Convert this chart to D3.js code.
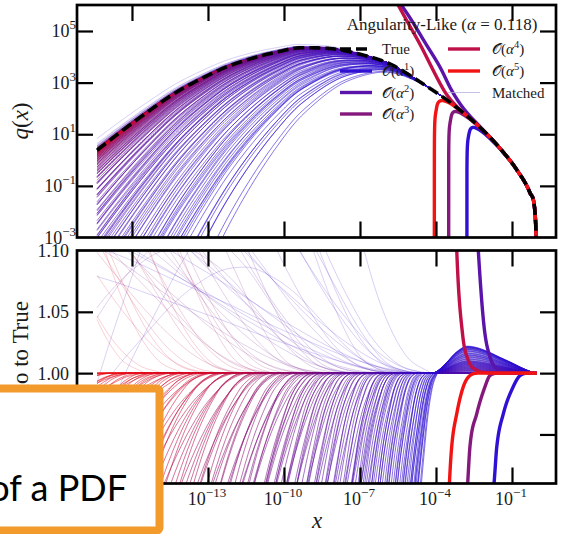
<!DOCTYPE html>
<html><head><meta charset="utf-8">
<script src="https://cdn.jsdelivr.net/npm/d3@7"></script>
<style>html,body{margin:0;padding:0;background:#fff}svg{display:block}</style>
</head><body>
<svg id="c" width="564" height="534"></svg>
<script>
// ---------------- DATA (log10 units) ----------------
// True curve: log10 x  -> log10 q(x)
const trueLogX = [-17.38,-16.5,-15.5,-14.26,-13.0,-12.29,-11.3,-10.3,-9.3,-8.3,-7.0,-5.81,-4.51,-3.45,-2.14,-1.47,-0.81,-0.29,-0.09,-0.02];
const trueLogQ = [0.38,1.05,1.78,2.62,3.28,3.6,3.93,4.18,4.35,4.33,4.1,3.72,2.95,2.24,1.15,0.45,-0.38,-1.27,-2.04,-3.6];

// Fixed-order curves that vanish (ratio to True, linear)
const alpha1L = [-2.78,-2.76,-2.71,-2.64,-2.53,-2.36,-2.15,-1.9,-1.71,-1.6,-1.34,-0.95,-0.68,-0.3,0];
const alpha3L = [-3.50,-3.48,-3.43,-3.37,-3.28,-3.15,-3.0,-2.85,-2.75,-2.66,-2.39,-2.065,-1.87,-1.5,0];
const alpha5L = [-4.065,-4.045,-3.995,-3.935,-3.845,-3.735,-3.615,-3.525,-3.47,-3.38,-3.18,-2.92,-2.66,-2.3,0];
const dropRatio = [0,0.07,0.2,0.4,0.58,0.72,0.82,0.88,0.91,0.94,0.967,0.989,0.998,1,1];
// Fixed-order curves that blow up (log10 of ratio to True)
const alpha2L = [-6.0,-5.42,-4.96,-4.4,-3.84,-3.4,-3.0,-2.65,-2.33,-2.1,-1.87,-1.55,-1.2,-0.6,0];
const alpha2R = [3.05,2.56,2.17,1.62,1.08,0.53,0.22,0.091,0.0414,0.016,0.0057,0.0012,0.0002,0,0];
const alpha4L = [-6.0,-5.53,-5.16,-4.6,-4.17,-3.9,-3.64,-3.4,-3.18,-2.95,-2.72,-2.38,-2.0,-1.4,0];
const alpha4R = [3.05,2.49,2.05,1.42,0.86,0.52,0.25,0.11,0.0414,0.0135,0.0044,0.001,0.0002,0,0];

// Matched curves below True: [log10 x where it leaves True, size of its fall]
const matchedBelow = [
 [-18.0,0.0018],[-17.8,0.0027],[-17.6,0.0014],[-17.4,0.0022],[-17.2,0.0036],[-17.0,0.0018],[-16.8,0.0027],[-16.6,0.0014],
 [-16.4,0.004],[-16.25,0.0022],[-16.1,0.0018],[-15.95,0.0032],[-15.8,0.0014],[-15.65,0.0027],[-15.5,0.0045],[-15.35,0.0018],
 [-15.2,0.0032],[-15.05,0.0022],[-14.9,0.004],[-14.75,0.0018],[-14.6,0.0027],[-14.45,0.0036],[-14.3,0.0022],[-14.15,0.005],
 [-14.0,0.0027],[-13.85,0.0018],[-13.7,0.0036],[-13.55,0.0027],[-13.4,0.0045],[-13.25,0.0022],[-13.1,0.0032],[-12.95,0.004],
 [-12.8,0.0035],[-12.65,0.0025],[-12.5,0.0055],[-12.35,0.004],[-12.2,0.003],[-12.05,0.006],[-11.9,0.004],[-11.75,0.003],
 [-11.6,0.0065],[-11.45,0.0045],[-11.3,0.0035],[-11.15,0.007],[-11.0,0.005],[-10.85,0.004],[-10.7,0.0075],[-10.55,0.0055],
 [-10.4,0.0045],[-10.25,0.008],[-10.1,0.006],[-9.95,0.005],[-9.8,0.009],[-9.65,0.0065],[-9.5,0.0055],[-9.35,0.01],
 [-9.2,0.007],[-9.05,0.006],
 [-8.95,0.008],[-8.85,0.011],[-8.75,0.007],[-8.65,0.0095],[-8.55,0.013],[-8.45,0.0085],[-8.35,0.0105],[-8.25,0.015],
 [-8.15,0.009],[-8.05,0.012],[-7.95,0.017],[-7.85,0.01],[-7.75,0.0135],[-7.65,0.019],[-7.55,0.011],[-7.45,0.015],
 [-7.35,0.021],[-7.25,0.0125],[-7.15,0.0165],[-7.05,0.023],[-6.95,0.014],[-6.85,0.018],[-6.75,0.025],[-6.65,0.015],
 [-6.55,0.02],[-6.45,0.0275],[-6.35,0.017],[-6.25,0.022],[-6.15,0.03],[-6.05,0.019],
 [-5.97,0.022],[-5.9,0.029],[-5.83,0.019],[-5.76,0.025],[-5.69,0.032],[-5.62,0.0225],[-5.55,0.028],[-5.48,0.036],
 [-5.41,0.025],[-5.34,0.0315],[-5.27,0.04],[-5.2,0.028],[-5.13,0.035],[-5.06,0.045],[-4.99,0.0315],[-4.92,0.04],
 [-4.85,0.05],[-4.78,0.035],[-4.71,0.044],[-4.64,0.054],[-4.57,0.039],[-4.5,0.048],[-4.44,0.058],[-4.38,0.043],
 [-4.32,0.053],[-4.26,0.063],[-4.2,0.047],[-4.15,0.058],[-4.1,0.07],[-4.06,0.052],[-4.02,0.063],[-3.99,0.076],
 [-3.96,0.056],[-3.94,0.07],[-3.92,0.085],[-3.9,0.09],
 [-16.9,0.003],[-16.0,0.0025],[-15.1,0.0038],[-14.55,0.003],[-13.95,0.0042],[-13.3,0.0035],[-12.9,0.005],[-12.45,0.0045],
 [-12.0,0.005],[-11.55,0.0055],[-11.1,0.006],[-10.8,0.0065],[-10.45,0.007],[-10.15,0.0075],[-9.85,0.008],[-9.55,0.0085],
 [-9.3,0.009],[-9.1,0.0095],
 [-8.9,0.0125],[-8.7,0.0105],[-8.5,0.0115],[-8.3,0.0125],[-8.1,0.0135],[-7.9,0.0145],[-7.7,0.016],[-7.5,0.0175],
 [-7.3,0.018],[-7.1,0.02],[-6.9,0.021],[-6.7,0.022],[-6.5,0.024],[-6.3,0.025],[-6.1,0.026],
 [-5.94,0.026],[-5.8,0.03],[-5.66,0.027],[-5.52,0.033],[-5.38,0.03],[-5.24,0.037],[-5.1,0.033],[-4.96,0.042],
 [-4.82,0.037],[-4.68,0.048],[-4.54,0.042],[-4.41,0.052],[-4.29,0.047],[-4.17,0.06],[-4.08,0.055],[-4.0,0.068],[-3.95,0.075]];
// unit fall profile: decades past departure -> decades below True
const fallD = [0,0.25,0.5,1,2,3,4,6,8,10,12,14,16];
const fallV = [0,0.0625,0.25,1,4,9,16,36,64,100,144,196,256];
// small excess of the late-departing matched curves near x ~ 1e-3
const bumpL = [-4.3,-4.0,-3.6,-3.2,-2.75,-2.4,-2.0,-1.5,-1.0,-0.55,-0.2,0];
const bumpV = [0,0.05,0.38,0.78,1,0.95,0.82,0.6,0.38,0.17,0.04,0];
const bumpDepart = [-6.2,-5.5,-4.8,-4.3,-3.9];
const bumpAmp = [0,0.005,0.01,0.016,0.022];
// matched curves rising above True
const aboveDepart = [-4.2,-4.25,-4.3,-4.4,-4.5,-4.6,-4.7,-4.8,-5.0,-5.2,-5.3,-5.5,-5.8,-6.0,-6.1,-6.5,-6.9,-7.0,-7.3,-7.8,-8.0,-8.3,-8.8,-9.0,-9.4,-10.0,-10.3,-10.6,-11.2,-11.5,-11.9,-12.6,-12.9,-13.3,-14.0,-14.8,-15.5];
const aboveAmp = [1.6,0.15,0.5,0.3,0.8,0.2,0.12,0.6,0.35,1.0,0.18,0.25,0.45,0.2,0.7,0.3,0.55,0.25,0.4,0.9,0.22,0.35,0.6,0.3,0.5,0.8,0.35,0.45,0.7,0.4,1.0,0.6,0.5,0.9,1.2,0.8,1.4];
const aboveD = [0,1,2,3,4,5,6,8,10,12,14,16];
const aboveR = [0,0.004,0.015,0.033,0.055,0.08,0.105,0.16,0.21,0.26,0.3,0.34];
const humpDepart = [-5.0,-5.5,-6.0,-7.5,-8.0,-9.0,-10.5,-11.0,-12.0];
const humpAmp = [1.0,0.6,1.5,0.8,0.7,1.2,1.0,1.3,0.9];
const humpD = [0,1,2,3,4,5,6,7,8,9,10,11,12,14,16];
const humpR = [0,0.004,0.015,0.03,0.045,0.055,0.06,0.058,0.05,0.038,0.022,0.005,-0.015,-0.06,-0.12];

// colour of a matched curve by its departure point
const colorDepart = [-18,-13,-10,-8.5,-6,-4];
const colorT = [1,0.85,0.55,0.4,0.18,0];

// ticks & labels
const xTickExp = [-16,-13,-10,-7,-4,-1];
const yTopExp = [5,3,1,-1,-3];
const yBotTicks = [1.10,1.05,1.00,0.95];
const orderColors = ["#3010d2","#5a14aa","#85187c","#c01048","#f21414"];
const orderNames = ["1","2","3","4","5"];

// ---------------- helpers ----------------
function monotone(xs, ys){
  const n=xs.length, d=[], m=new Array(n);
  for(let i=0;i<n-1;i++) d.push((ys[i+1]-ys[i])/(xs[i+1]-xs[i]));
  m[0]=d[0]; m[n-1]=d[n-2];
  for(let i=1;i<n-1;i++) m[i]=(d[i-1]*d[i]<=0)?0:(d[i-1]+d[i])/2;
  for(let i=0;i<n-1;i++){
    if(d[i]===0){m[i]=0;m[i+1]=0;continue;}
    const a=m[i]/d[i], b=m[i+1]/d[i], h=a*a+b*b;
    if(h>9){const tt=3/Math.sqrt(h); m[i]=tt*a*d[i]; m[i+1]=tt*b*d[i];}
  }
  return v=>{
    if(v<=xs[0]) return ys[0]; if(v>=xs[n-1]) return ys[n-1];
    const i=Math.min(n-2,d3.bisectRight(xs,v)-1);
    const h=xs[i+1]-xs[i], t=(v-xs[i])/h, t2=t*t, t3=t2*t;
    return (2*t3-3*t2+1)*ys[i]+(t3-2*t2+t)*h*m[i]+(-2*t3+3*t2)*ys[i+1]+(t3-t2)*h*m[i+1];
  };
}
const T = monotone(trueLogX, trueLogQ);
const fallF = monotone(fallD, fallV);
const bumpF = monotone(bumpL, bumpV);
const aboveF = monotone(aboveD, aboveR);
const humpF = monotone(humpD, humpR);
const tOf = d3.scaleLinear().domain(colorDepart).range(colorT).clamp(true);
const bumpOf = d3.scaleLinear().domain(bumpDepart).range(bumpAmp).clamp(true);
const ramp = d3.interpolateRgbBasis(orderColors);

const SERIF = "'Liberation Serif','DejaVu Serif',serif";
const INK = "#1a1a1a";
const X0=77, X1=556, topY0=5, topY1=237.5, botY0=250.5, botY1=483.5;
const x = d3.scaleLog().domain([10**-18.17, 10**0.737]).range([X0,X1]);
const yTop = d3.scaleLog().domain([1e-3, 10**6.007]).range([topY1,topY0]);
const yBot = d3.scaleLinear().domain([0.91,1.10]).range([botY1,botY0]);

const svg = d3.select("#c");
const defs = svg.append("defs");
defs.append("clipPath").attr("id","clipTop").append("rect").attr("x",X0).attr("y",topY0).attr("width",X1-X0).attr("height",topY1-topY0);
defs.append("clipPath").attr("id","clipBot").append("rect").attr("x",X0).attr("y",botY0).attr("width",X1-X0).attr("height",botY1-botY0);
const gTop = svg.append("g").attr("clip-path","url(#clipTop)");
const gBot = svg.append("g").attr("clip-path","url(#clipBot)");

const lineTop = d3.line().x(d=>x(10**d[0])).y(d=>yTop(10**Math.max(-6,Math.min(8,d[1]))));
const lineBot = d3.line().x(d=>x(10**d[0])).y(d=>yBot(Math.max(0.8,Math.min(1.3,d[1]))));

const grid = d3.range(-17.38,-0.03,0.03).concat([-0.02]);

function drawMatched(logr, color, width, op){
  const top = grid.map(L=>[L, T(L)+logr(L)]);
  const bot = grid.map(L=>[L, 10**logr(L)]);
  gTop.append("path").attr("d",lineTop(top)).attr("fill","none").attr("stroke",color).attr("stroke-width",width).attr("stroke-opacity",op);
  gBot.append("path").attr("d",lineBot(bot)).attr("fill","none").attr("stroke",color).attr("stroke-width",width).attr("stroke-opacity",op);
}
// curves above
aboveDepart.forEach((L0,i)=>{
  const a=aboveAmp[i];
  drawMatched(L=>a*aboveF(Math.max(0,L0-L)), ramp(tOf(L0)), 0.9, 0.22);
});
humpDepart.forEach((L0,i)=>{
  const a=humpAmp[i];
  drawMatched(L=>a*humpF(Math.max(0,L0-L)), ramp(tOf(L0)), 0.9, 0.22);
});
// curves below (red first, blue last)
matchedBelow.slice().sort((p,q)=>p[0]-q[0]).forEach(([L0,A])=>{
  const b=bumpOf(L0);
  drawMatched(L=>-A*fallF(Math.max(0,L0-L))+Math.log10(1+b*bumpF(L)), ramp(tOf(L0)), 1.0, 0.6);
});

// fixed-order curves
const fgrid = d3.range(-6.5,-0.021,0.002).concat([-0.02]);
function drawOrder(ratioFn, isLog, color){
  const top = fgrid.map(L=>{
    if(isLog) return [L, T(L)+ratioFn(L)];
    const r=ratioFn(L); return [L, r>0?T(L)+Math.log10(r):-6];
  });
  const bot = fgrid.map(L=>[L, isLog?10**ratioFn(L):ratioFn(L)]);
  gTop.append("path").attr("d",lineTop(top)).attr("fill","none").attr("stroke",color).attr("stroke-width",3.4);
  gBot.append("path").attr("d",lineBot(bot)).attr("fill","none").attr("stroke",color).attr("stroke-width",3.4);
}
const a1=monotone(alpha1L,dropRatio), a3=monotone(alpha3L,dropRatio), a5=monotone(alpha5L,dropRatio);
const a2=monotone(alpha2L,alpha2R), a4=monotone(alpha4L,alpha4R);
drawOrder(a1,false,orderColors[0]);
drawOrder(a2,true,orderColors[1]);
drawOrder(a3,false,orderColors[2]);
drawOrder(a4,true,orderColors[3]);
drawOrder(a5,false,orderColors[4]);

// True
const trueGrid = d3.range(-17.38,-0.021,0.02).concat([-0.02]);
gTop.append("path").attr("d",lineTop(trueGrid.map(L=>[L,T(L)]))).attr("fill","none").attr("stroke","#000").attr("stroke-width",3.6).attr("stroke-dasharray","11,5");

// ---------------- axes ----------------
const TK=16;
function styleAxis(g){ g.select(".domain").remove(); g.selectAll(".tick line").attr("stroke","#000").attr("stroke-width",2.2); g.selectAll(".tick text").remove(); }
const xt = xTickExp.map(e=>10**e);
svg.append("g").attr("transform",`translate(0,${topY0})`).call(d3.axisTop(x).tickValues(xt).tickSize(-TK).tickSizeOuter(0)).call(styleAxis);
svg.append("g").attr("transform",`translate(0,${topY1})`).call(d3.axisBottom(x).tickValues(xt).tickSize(-TK).tickSizeOuter(0)).call(styleAxis);
svg.append("g").attr("transform",`translate(0,${botY0})`).call(d3.axisTop(x).tickValues(xt).tickSize(-TK).tickSizeOuter(0)).call(styleAxis);
svg.append("g").attr("transform",`translate(0,${botY1})`).call(d3.axisBottom(x).tickValues(xt).tickSize(-TK).tickSizeOuter(0)).call(styleAxis);
const yt = yTopExp.slice(0,4).map(e=>10**e);
svg.append("g").attr("transform",`translate(${X0},0)`).call(d3.axisLeft(yTop).tickValues(yt).tickSize(-TK).tickSizeOuter(0)).call(styleAxis);
svg.append("g").attr("transform",`translate(${X1},0)`).call(d3.axisRight(yTop).tickValues(yt).tickSize(-TK).tickSizeOuter(0)).call(styleAxis);
const ybt = yBotTicks.slice(1);
svg.append("g").attr("transform",`translate(${X0},0)`).call(d3.axisLeft(yBot).tickValues(ybt).tickSize(-TK).tickSizeOuter(0)).call(styleAxis);
svg.append("g").attr("transform",`translate(${X1},0)`).call(d3.axisRight(yBot).tickValues(ybt).tickSize(-TK).tickSizeOuter(0)).call(styleAxis);
// frames
[[topY0,topY1],[botY0,botY1]].forEach(([a,b])=>svg.append("rect").attr("x",X0).attr("y",a).attr("width",X1-X0).attr("height",b-a).attr("fill","none").attr("stroke","#000").attr("stroke-width",2.7));

// tick labels
function powLabel(xp, yp, exp, anchor){
  const t=svg.append("text").attr("x",xp).attr("y",yp).attr("text-anchor",anchor).attr("font-family",SERIF).attr("font-size",18).attr("fill",INK);
  t.append("tspan").text("10");
  t.append("tspan").attr("dy",-8).attr("font-size",13).text(String(exp).replace("-","\u2212"));
}
yTopExp.forEach(e=>powLabel(76, yTop(10**e)+6, e, "end"));
xTickExp.forEach(e=>powLabel(x(10**e)-1, 505, e, "middle"));
yBotTicks.forEach(v=>svg.append("text").attr("x",69).attr("y",yBot(v)+6.5).attr("text-anchor","end").attr("font-family",SERIF).attr("font-size",18).attr("fill",INK).text(v.toFixed(2)));

// axis labels
const ql = svg.append("text").attr("transform","translate(28,121) rotate(-90)").attr("text-anchor","middle").attr("font-family",SERIF).attr("font-size",23).attr("fill",INK);
ql.append("tspan").attr("font-style","italic").text("q");
ql.append("tspan").text("(");
ql.append("tspan").attr("font-style","italic").text("x");
ql.append("tspan").text(")");
svg.append("text").attr("transform","translate(28,301) rotate(-90)").attr("text-anchor","end").attr("font-family",SERIF).attr("font-size",23).attr("fill",INK).text("Ratio to True");
svg.append("text").attr("x",317).attr("y",528).attr("text-anchor","middle").attr("font-family",SERIF).attr("font-style","italic").attr("font-size",23).attr("fill",INK).text("x");

// ---------------- legend ----------------
const lg = svg.append("g");
const tt = lg.append("text").attr("x",442).attr("y",30).attr("text-anchor","middle").attr("font-family",SERIF).attr("font-size",17).attr("fill",INK);
tt.append("tspan").text("Angularity-Like (");
tt.append("tspan").attr("font-style","italic").text("\u03b1");
tt.append("tspan").text(" = 0.118)");
const rows = [49,71,92.5,114];
function handle(x0,y,color,w,dash,op){
  const l=lg.append("line").attr("x1",x0).attr("x2",x0+32).attr("y1",y).attr("y2",y).attr("stroke",color).attr("stroke-width",w).attr("stroke-opacity",op||1);
  if(dash) l.attr("stroke-dasharray",dash);
}
function orderLabel(xx,yy,n){
  const t=lg.append("text").attr("x",xx).attr("y",yy).attr("font-family",SERIF).attr("font-size",15).attr("fill",INK);
  t.append("tspan").text("\ud835\udcaa(");
  t.append("tspan").attr("font-style","italic").text("\u03b1");
  t.append("tspan").attr("dy",-6).attr("font-size",10.5).text(n);
  t.append("tspan").attr("dy",6).text(")");
}
handle(340,rows[0],"#000",3.6,"11,5");
lg.append("text").attr("x",382).attr("y",rows[0]+5).attr("font-family",SERIF).attr("font-size",15).attr("fill",INK).text("True");
[0,1,2].forEach(i=>{handle(340,rows[i+1],orderColors[i],3.4); orderLabel(382,rows[i+1]+5,orderNames[i]);});
[3,4].forEach((i,k)=>{handle(448,rows[k],orderColors[i],3.4); orderLabel(492,rows[k]+5,orderNames[i]);});
handle(448,rows[2],"#b8b0e0",1,null,0.8);
lg.append("text").attr("x",492).attr("y",rows[2]+5).attr("font-family",SERIF).attr("font-size",15).attr("fill",INK).text("Matched");

// ---------------- overlay box ----------------
svg.append("rect").attr("x",-20).attr("y",388.5).attr("width",179.5).attr("height",142).attr("rx",3).attr("fill","#fff").attr("stroke","#F39A2C").attr("stroke-width",8);
svg.append("text").attr("x",127).attr("y",500.5).attr("text-anchor","end").attr("font-family","Lato,'Open Sans',sans-serif").attr("font-size",36).attr("fill","#000").text("of a PDF");
</script>
</body></html>
